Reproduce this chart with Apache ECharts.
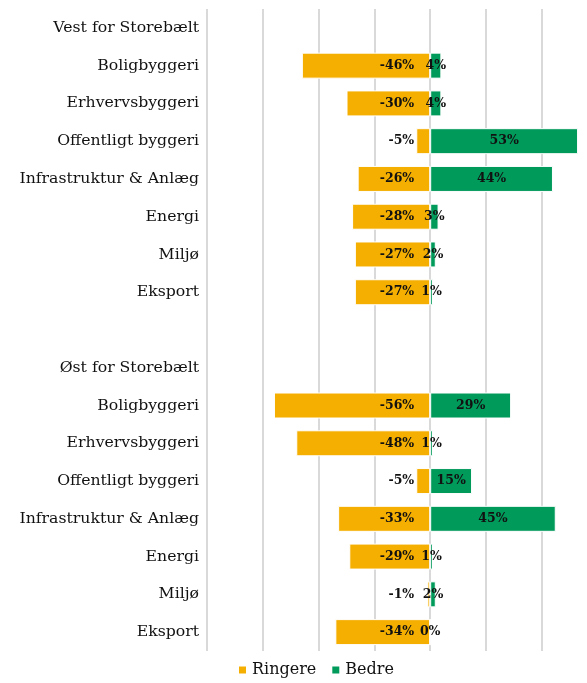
<!DOCTYPE html>
<html><head><meta charset="utf-8">
<script src="https://cdn.jsdelivr.net/npm/echarts@6/dist/echarts.min.js"></script>
<style>html,body{margin:0;padding:0;background:#fff}#c{width:587px;height:683px}</style>
</head><body><div id="c"></div>
<script>
const categories = ['Vest for Storebælt','Boligbyggeri','Erhvervsbyggeri','Offentligt byggeri','Infrastruktur & Anlæg','Energi','Miljø','Eksport','',
  'Øst for Storebælt','Boligbyggeri','Erhvervsbyggeri','Offentligt byggeri','Infrastruktur & Anlæg','Energi','Miljø','Eksport'];
const ringere = ['-',-46,-30,-5,-26,-28,-27,-27,'-','-',-56,-48,-5,-33,-29,-1,-34];
const bedre   = ['-',4,4,53,44,3,2,1,'-','-',29,1,15,45,1,2,0];
const xTicks = {min:-80, max:56.2, interval:20};

const FONT = '"DejaVu Serif", "Liberation Serif", serif';
const chart = echarts.init(document.getElementById('c'), null, {renderer:'canvas'});
chart.setOption({
  animation:false,
  grid:{left:207, right:0, top:9, height:642, containLabel:false},
  legend:{
    data:['Ringere','Bedre'], bottom:0, left:232, itemWidth:9, itemHeight:9, itemGap:14,
    icon:'rect', textStyle:{fontFamily:FONT, fontSize:16, color:'#111'}
  },
  xAxis:{type:'value', min:xTicks.min, max:xTicks.max, interval:xTicks.interval,
    axisLabel:{show:false}, axisLine:{show:false}, axisTick:{show:false},
    splitLine:{showMaxLine:false, lineStyle:{color:'#d9d9d9', width:2}}},
  yAxis:{type:'category', data:categories, inverse:true,
    axisLine:{show:false}, axisTick:{show:false},
    axisLabel:{fontFamily:FONT, fontSize:15.7, color:'#111', margin:8}},
  series:[
    {name:'Ringere', type:'bar', data:ringere, barWidth:26, barGap:'-100%',
     itemStyle:{color:'#F5AF00', borderColor:'#fff', borderWidth:1},
     label:{show:true, position:'insideRight', distance:16, formatter:p=>p.value+'%',
       fontFamily:FONT, fontWeight:'bold', fontSize:12.5, color:'#111'}},
    {name:'Bedre', type:'bar', data:bedre, barWidth:26, barGap:'-100%',
     itemStyle:{color:'#009A5B', borderColor:'#fff', borderWidth:1},
     label:{show:true, position:'inside', formatter:p=>p.value+'%',
       fontFamily:FONT, fontWeight:'bold', fontSize:12.5, color:'#111'}}
  ]
});
</script></body></html>
